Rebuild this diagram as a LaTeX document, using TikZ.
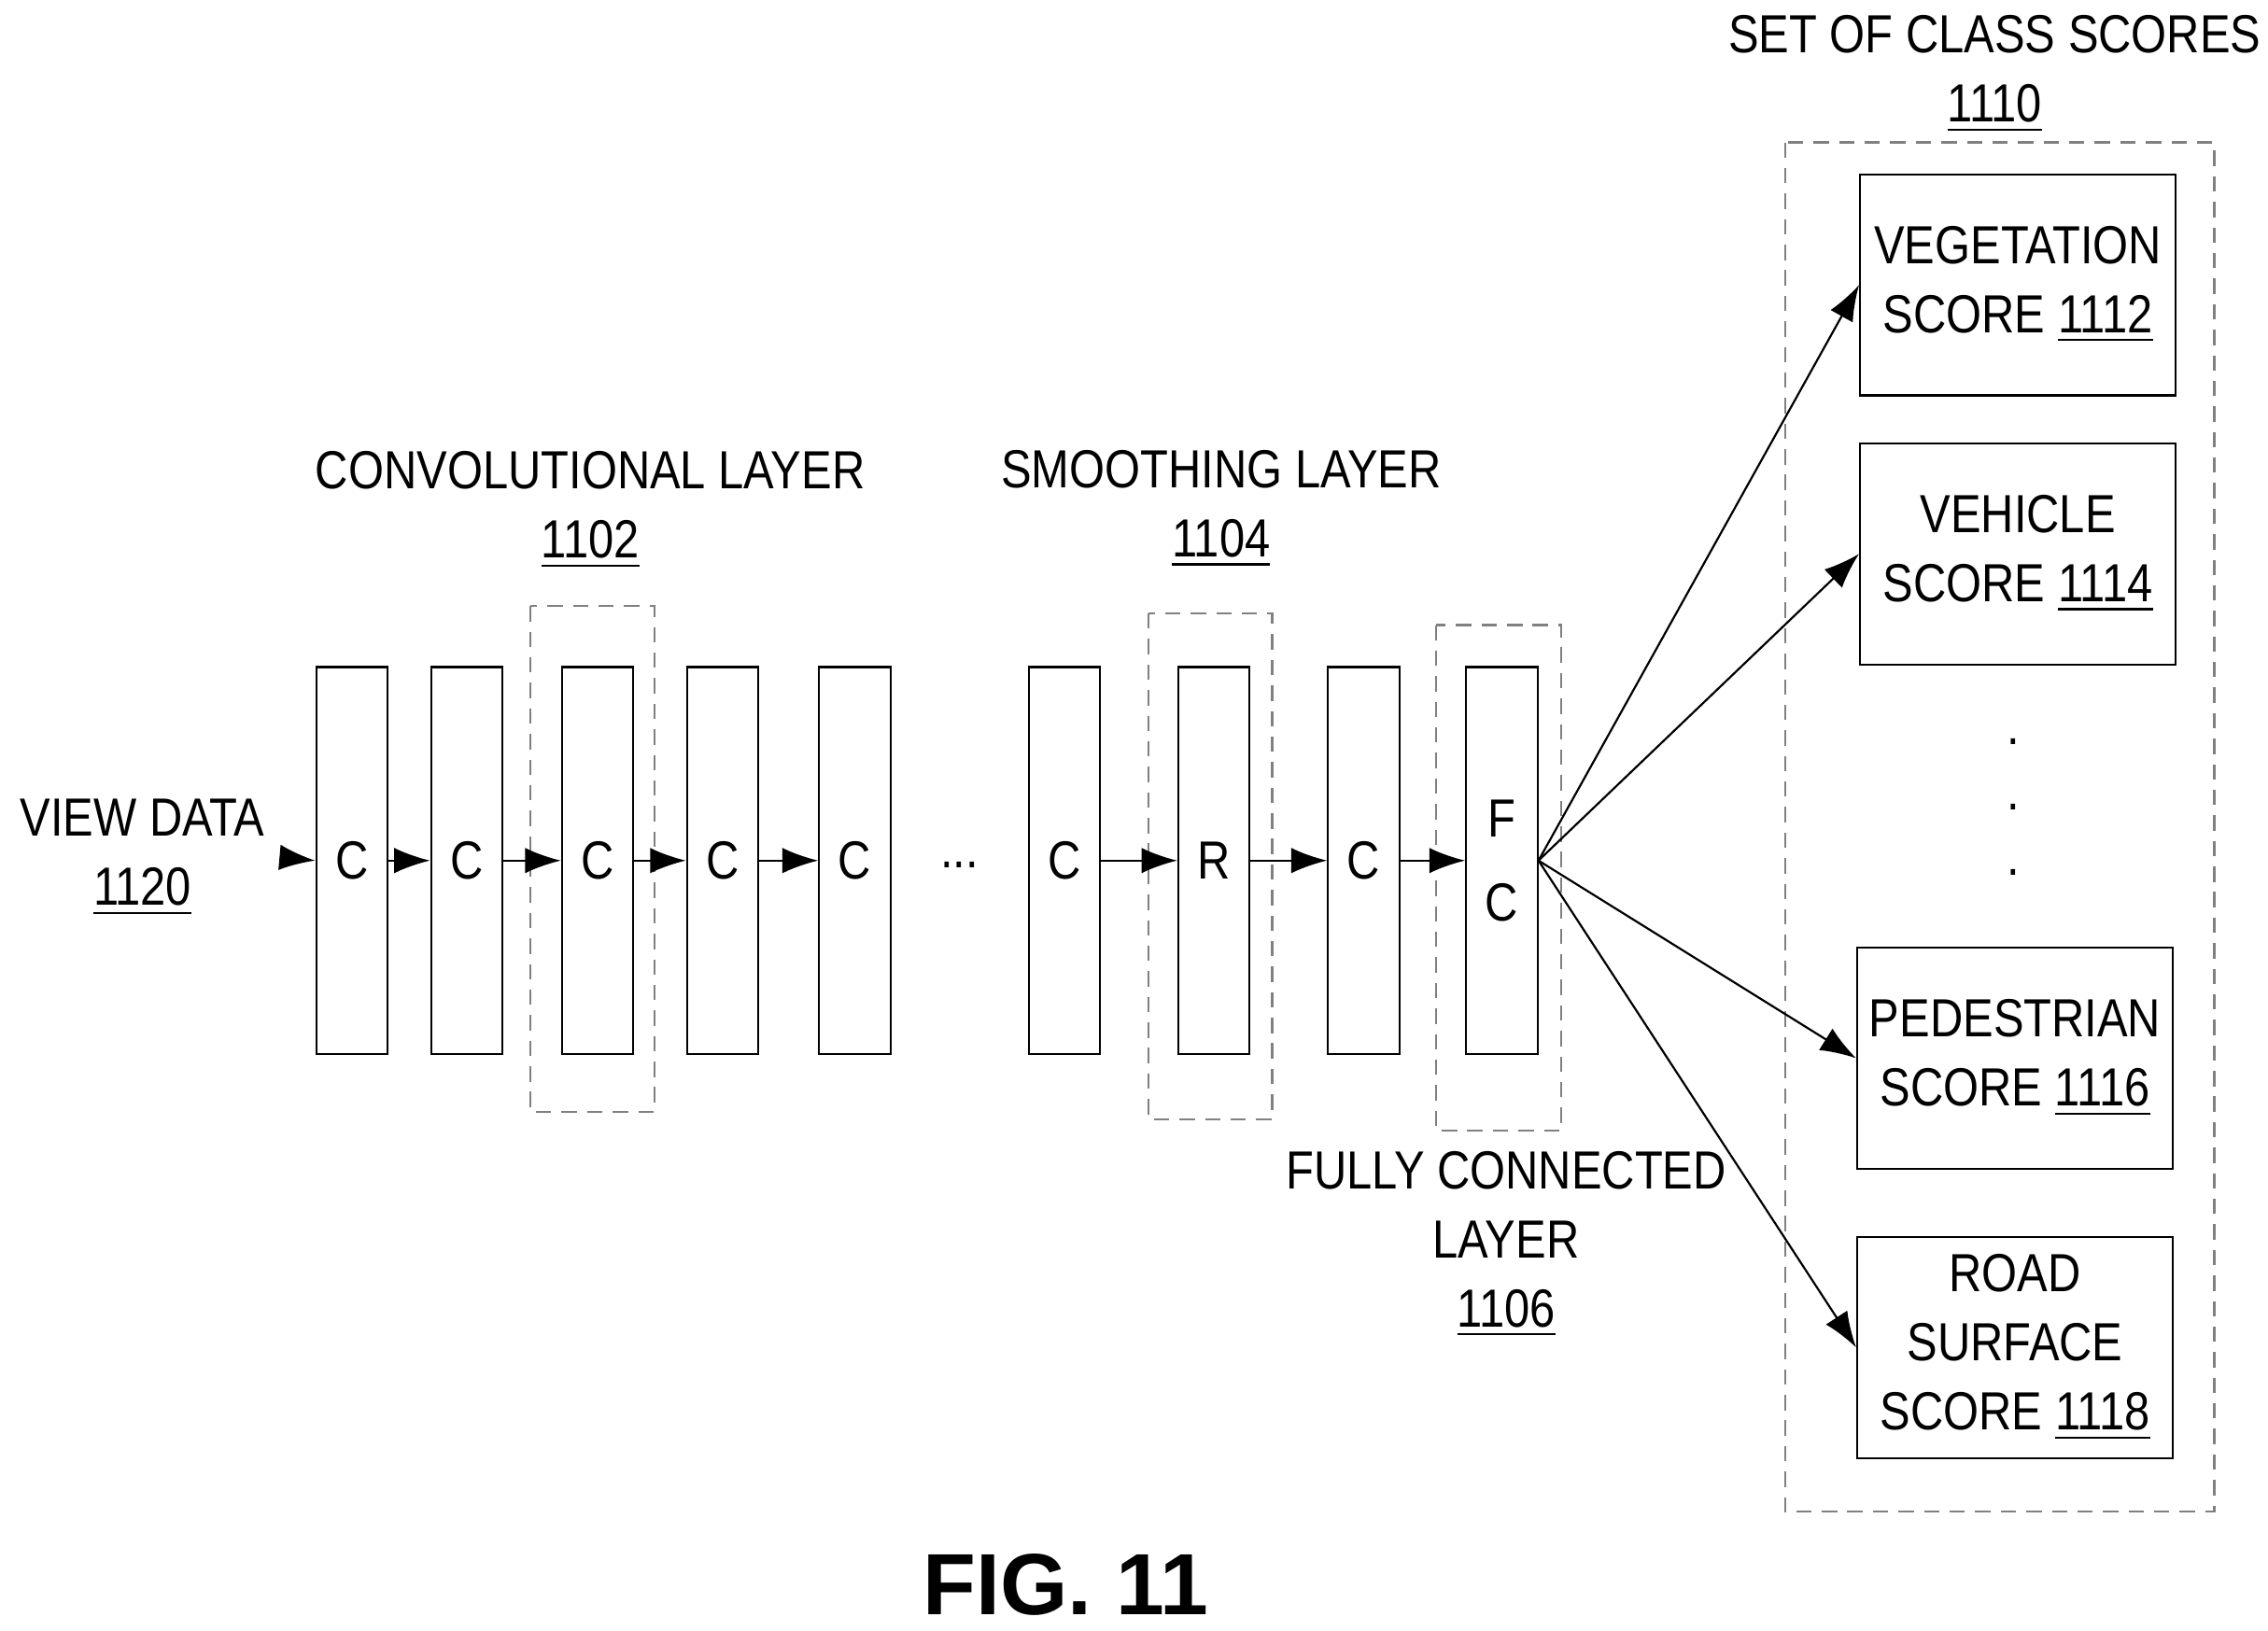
\documentclass[tikz,border=0pt]{standalone}
\usepackage{fontspec}
\setmainfont[FakeStretch=0.85]{Liberation Sans}
\newfontfamily\figfont{Liberation Sans}
\usetikzlibrary{arrows.meta, positioning}
\tikzset{
    layer/.style={rectangle, draw=black, thin, minimum width=0.49cm, minimum height=2.66cm, inner sep=0pt, align=center},
    score/.style={rectangle, draw=black, thin, minimum width=2.17cm, minimum height=1.52cm, inner sep=0pt, align=center},
    group/.style={rectangle, draw=gray, dash pattern=on 3pt off 2pt, thin},
    arrow/.style={-{Latex[length=7pt,width=5pt]}, thin},
    label/.style={align=center, font=\fontsize{10.5}{13.5}\selectfont}
}
\begin{document}
\begin{tikzpicture}[x=0.01cm, y=-0.01cm, every node/.style={font=\fontsize{10.5}{13.5}\selectfont}]
    \useasboundingbox (0,0) rectangle (1560,1122);

    % Dashed groups
    \draw[group] (365,417) rectangle (450,765);
    \draw[group] (790,422) rectangle (875,770);
    \draw[group] (988,430) rectangle (1074,778);
    \draw[group] (1228,98) rectangle (1523,1040);

    % Layers
    \node[layer] (c1) at (242,592) {C};
    \node[layer] (c2) at (321,592) {C};
    \node[layer] (c3) at (411,592) {C};
    \node[layer] (c4) at (497,592) {C};
    \node[layer] (c5) at (588,592) {C};
    \node (dots) at (660,595) {...};
    \node[layer] (c6) at (732,592) {C};
    \node[layer] (r) at (835,592) {R};
    \node[layer] (c7) at (938,592) {C};
    \node[layer] (fc) at (1033,592) {F\\[3pt]C};

    % Scores
    \node[score] (veg) at (1388,196) {VEGETATION\\SCORE \underline{1112}};
    \node[score] (veh) at (1388,381) {VEHICLE\\SCORE \underline{1114}};
    \node[score] (ped) at (1386,728) {PEDESTRIAN\\SCORE \underline{1116}};
    \node[score] (road) at (1386,927) {ROAD\\SURFACE\\SCORE \underline{1118}};
    \foreach \y in {510,555,600} \node at (1385,\y) {.};

    % Labels
    \node[label] (view) at (98,590) {VIEW DATA\\\underline{1120}};
    \node[label] at (406,351) {CONVOLUTIONAL LAYER\\\underline{1102}};
    \node[label] at (840,350) {SMOOTHING LAYER\\\underline{1104}};
    \node[label] at (1036,856) {FULLY CONNECTED\\LAYER\\\underline{1106}};
    \node[label] at (1372,51) {SET OF CLASS SCORES\\\underline{1110}};
    \node[font=\figfont\bfseries\fontsize{17}{20}\selectfont] at (733,1090) {FIG. 11};

    % Connectors
    \draw[arrow] (view.east) -- (c1.west);
    \draw[arrow] (c1) -- (c2);
    \draw[arrow] (c2) -- (c3);
    \draw[arrow] (c3) -- (c4);
    \draw[arrow] (c4) -- (c5);
    \draw[arrow] (c6) -- (r);
    \draw[arrow] (r) -- (c7);
    \draw[arrow] (c7) -- (fc);
    \foreach \t in {veg, veh, ped, road}
        \draw[arrow] (fc.east) -- (\t.west);
\end{tikzpicture}
\end{document}
